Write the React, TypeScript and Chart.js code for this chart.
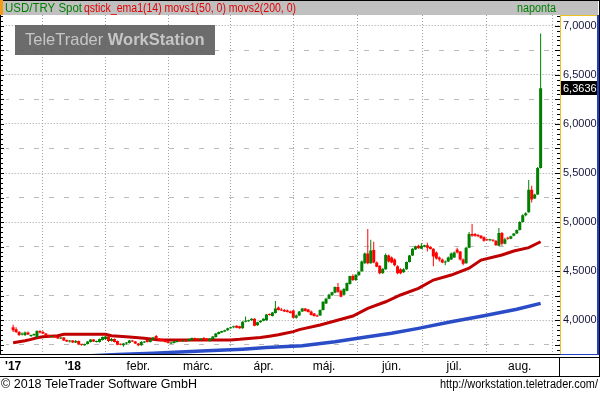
import React, { useEffect, useRef } from 'react';
import { Chart, registerables } from 'chart.js';

Chart.register(...registerables);

// ---- data ----
const openValues = [
  3.93, 3.91, 3.88, 3.855, 3.85, 3.875, 3.84, 3.85, 3.83, 3.89,
  3.88, 3.865, 3.845, 3.83, 3.84, 3.83, 3.815, 3.825, 3.80, 3.785,
  3.795, 3.775, 3.79, 3.755, 3.745, 3.76, 3.78, 3.805, 3.78, 3.78,
  3.80, 3.81, 3.835, 3.79, 3.81, 3.79, 3.76, 3.745, 3.765, 3.77,
  3.795, 3.785, 3.765, 3.745, 3.775, 3.80, 3.78, 3.805, 3.84, 3.815,
  3.81, 3.795, 3.785, 3.765, 3.77, 3.78, 3.79, 3.785, 3.79, 3.79,
  3.80, 3.82, 3.81, 3.80, 3.82, 3.815, 3.79, 3.81, 3.83, 3.86,
  3.875, 3.885, 3.90, 3.92, 3.93, 3.945, 3.94, 3.92, 3.985, 3.99,
  4.00, 4.015, 3.95, 3.98, 3.995, 4.00, 4.065, 4.045, 4.075, 4.13,
  4.11, 4.105, 4.10, 4.09, 4.10, 4.025, 4.05, 4.09, 4.12, 4.11,
  4.09, 4.07, 4.05, 4.05, 4.105, 4.17, 4.22, 4.255, 4.28, 4.34,
  4.30, 4.26, 4.30, 4.37, 4.45, 4.41, 4.46, 4.50, 4.58, 4.68,
  4.58, 4.715, 4.59, 4.555, 4.48, 4.52, 4.66, 4.64, 4.62, 4.55,
  4.52, 4.49, 4.52, 4.595, 4.66, 4.72, 4.76, 4.73, 4.75, 4.765,
  4.75, 4.73, 4.69, 4.64, 4.62, 4.59, 4.60, 4.62, 4.64, 4.72,
  4.70, 4.62, 4.58, 4.74, 4.88, 4.88, 4.87, 4.86, 4.845, 4.82,
  4.815, 4.82, 4.81, 4.76, 4.89, 4.78, 4.84, 4.83, 4.86, 4.885,
  4.92, 5.00, 5.07, 5.10, 5.33, 5.24, 5.28, 5.55
];
const highValues = [
  3.955, 3.93, 3.89, 3.875, 3.885, 3.885, 3.855, 3.865, 3.90, 3.90,
  3.895, 3.87, 3.855, 3.845, 3.85, 3.835, 3.83, 3.83, 3.805, 3.80,
  3.80, 3.80, 3.795, 3.76, 3.765, 3.79, 3.81, 3.81, 3.795, 3.815,
  3.835, 3.84, 3.84, 3.82, 3.815, 3.795, 3.765, 3.77, 3.78, 3.80,
  3.80, 3.79, 3.77, 3.79, 3.79, 3.805, 3.81, 3.83, 3.85, 3.82,
  3.815, 3.80, 3.79, 3.78, 3.79, 3.795, 3.80, 3.795, 3.795, 3.815,
  3.825, 3.825, 3.82, 3.82, 3.83, 3.82, 3.82, 3.84, 3.87, 3.885,
  3.895, 3.905, 3.925, 3.935, 3.945, 3.95, 3.945, 3.99, 4.04, 4.005,
  4.02, 4.02, 3.985, 4.00, 4.02, 4.065, 4.07, 4.085, 4.196, 4.14,
  4.125, 4.115, 4.11, 4.10, 4.105, 4.06, 4.095, 4.125, 4.125, 4.115,
  4.10, 4.075, 4.06, 4.11, 4.195, 4.23, 4.27, 4.29, 4.345, 4.38,
  4.31, 4.33, 4.385, 4.455, 4.47, 4.47, 4.50, 4.61, 4.69, 4.93,
  4.82, 4.80, 4.60, 4.56, 4.53, 4.68, 4.67, 4.65, 4.63, 4.56,
  4.53, 4.53, 4.60, 4.665, 4.735, 4.76, 4.77, 4.785, 4.77, 4.79,
  4.755, 4.735, 4.70, 4.65, 4.63, 4.61, 4.65, 4.69, 4.70, 4.74,
  4.705, 4.63, 4.75, 4.90, 4.98, 4.89, 4.88, 4.87, 4.855, 4.83,
  4.83, 4.825, 4.815, 4.94, 4.90, 4.84, 4.85, 4.86, 4.89, 4.925,
  5.01, 5.08, 5.10, 5.43, 5.37, 5.29, 5.56, 6.92
];
const lowValues = [
  3.88, 3.87, 3.84, 3.845, 3.84, 3.85, 3.83, 3.84, 3.82, 3.865,
  3.86, 3.84, 3.83, 3.825, 3.82, 3.81, 3.81, 3.79, 3.78, 3.775,
  3.77, 3.77, 3.75, 3.74, 3.74, 3.755, 3.775, 3.78, 3.775, 3.775,
  3.795, 3.80, 3.78, 3.785, 3.775, 3.745, 3.745, 3.73, 3.755, 3.765,
  3.78, 3.76, 3.735, 3.74, 3.77, 3.775, 3.775, 3.80, 3.81, 3.79,
  3.785, 3.775, 3.765, 3.76, 3.765, 3.775, 3.78, 3.78, 3.78, 3.785,
  3.795, 3.80, 3.80, 3.795, 3.80, 3.79, 3.785, 3.805, 3.825, 3.855,
  3.87, 3.88, 3.895, 3.915, 3.92, 3.92, 3.915, 3.915, 3.98, 3.985,
  3.995, 3.94, 3.945, 3.975, 3.99, 3.995, 4.05, 4.04, 4.07, 4.10,
  4.095, 4.085, 4.08, 4.07, 4.02, 4.015, 4.045, 4.085, 4.09, 4.08,
  4.05, 4.04, 4.035, 4.045, 4.10, 4.165, 4.215, 4.25, 4.275, 4.28,
  4.235, 4.25, 4.295, 4.365, 4.40, 4.40, 4.455, 4.495, 4.575, 4.57,
  4.575, 4.58, 4.54, 4.47, 4.475, 4.515, 4.59, 4.58, 4.55, 4.47,
  4.47, 4.485, 4.515, 4.59, 4.655, 4.715, 4.73, 4.725, 4.745, 4.70,
  4.72, 4.55, 4.62, 4.60, 4.58, 4.56, 4.595, 4.615, 4.635, 4.68,
  4.61, 4.56, 4.575, 4.735, 4.85, 4.85, 4.845, 4.83, 4.80, 4.81,
  4.805, 4.80, 4.76, 4.755, 4.76, 4.775, 4.82, 4.825, 4.855, 4.88,
  4.915, 4.995, 5.06, 5.095, 5.20, 5.235, 5.275, 5.545
];
const closeValues = [
  3.90, 3.88, 3.85, 3.865, 3.875, 3.855, 3.85, 3.86, 3.89, 3.875,
  3.865, 3.845, 3.835, 3.84, 3.825, 3.815, 3.825, 3.795, 3.785, 3.795,
  3.775, 3.79, 3.755, 3.75, 3.76, 3.785, 3.805, 3.785, 3.79, 3.81,
  3.83, 3.835, 3.79, 3.81, 3.78, 3.75, 3.75, 3.765, 3.775, 3.795,
  3.785, 3.765, 3.745, 3.78, 3.785, 3.78, 3.805, 3.825, 3.815, 3.795,
  3.79, 3.78, 3.77, 3.775, 3.785, 3.79, 3.785, 3.79, 3.785, 3.81,
  3.82, 3.805, 3.805, 3.815, 3.805, 3.795, 3.815, 3.835, 3.865, 3.88,
  3.89, 3.90, 3.92, 3.93, 3.94, 3.925, 3.92, 3.985, 3.995, 4.00,
  4.015, 3.945, 3.98, 3.995, 4.015, 4.06, 4.055, 4.08, 4.12, 4.105,
  4.10, 4.09, 4.085, 4.075, 4.025, 4.05, 4.09, 4.12, 4.095, 4.085,
  4.055, 4.045, 4.04, 4.105, 4.19, 4.22, 4.26, 4.285, 4.34, 4.29,
  4.24, 4.32, 4.38, 4.45, 4.41, 4.465, 4.495, 4.60, 4.68, 4.58,
  4.71, 4.59, 4.545, 4.48, 4.525, 4.665, 4.60, 4.59, 4.56, 4.48,
  4.48, 4.52, 4.595, 4.66, 4.73, 4.755, 4.735, 4.76, 4.765, 4.74,
  4.725, 4.65, 4.63, 4.62, 4.59, 4.595, 4.64, 4.68, 4.69, 4.69,
  4.62, 4.575, 4.74, 4.88, 4.86, 4.86, 4.855, 4.835, 4.81, 4.815,
  4.82, 4.81, 4.765, 4.89, 4.78, 4.825, 4.83, 4.855, 4.885, 4.92,
  5.00, 5.07, 5.09, 5.33, 5.23, 5.28, 5.55, 6.3636
];

// movs1(50) – red moving average, read at these candle positions
const movs1Index = [0, 2, 4, 6, 8, 10, 15, 17, 31, 33, 39, 44, 49, 73, 76, 79, 83, 86, 89, 91, 94, 96, 103, 107, 114, 119, 125, 130, 136, 141, 147, 153, 157, 164, 168, 173, 177];
const movs1Values = [3.772, 3.782, 3.792, 3.806, 3.823, 3.833, 3.843, 3.857, 3.857, 3.843, 3.830, 3.817, 3.800, 3.800, 3.806, 3.815, 3.825, 3.838, 3.853, 3.866, 3.885, 3.905, 3.952, 3.986, 4.044, 4.122, 4.189, 4.258, 4.326, 4.410, 4.461, 4.530, 4.614, 4.665, 4.706, 4.740, 4.800];

// movs2(200) – blue moving average
const movs2Index = [0, 35, 47, 56, 65, 77, 85, 97, 108, 119, 127, 136, 147, 158, 169, 177];
const movs2Values = [3.600, 3.652, 3.665, 3.678, 3.690, 3.706, 3.722, 3.742, 3.782, 3.833, 3.868, 3.918, 3.986, 4.047, 4.112, 4.173];

const timeTickPositions = [0, 20, 42, 62, 84, 104.33, 127, 148, 170];
const timeTickLabels = ["'17", "'18", 'febr.', 'márc.', 'ápr.', 'máj.', 'jún.', 'júl.', 'aug.'];
const priceTicks = [4, 4.5, 5, 5.5, 6, 6.5, 7];
const minorPriceTicks = [3.75, 4.25, 4.75, 5.25, 5.75, 6.25, 6.75];

const titleInstrument = 'USD/TRY Spot';
const titleIndicators = 'qstick_ema1(14) movs1(50, 0) movs2(200, 0)';
const periodLabel = 'naponta';
const watermarkA = 'TeleTrader ';
const watermarkB = 'WorkStation';
const footerLeft = '© 2018 TeleTrader Software GmbH';
const footerRight = 'http://workstation.teletrader.com/';

const FONT = "'Liberation Sans', Arial, sans-serif";
const GREEN = '#008000';
const RED = '#ff0000';
const Y_MIN = 3.657;
const Y_MAX = 7.109;

const fmt = (v: number) => v.toFixed(4).replace('.', ',');

// draw text squeezed/stretched horizontally to a target width
function fitText(ctx: CanvasRenderingContext2D, text: string, x: number, y: number, width: number) {
  const w = ctx.measureText(text).width;
  ctx.save();
  ctx.translate(x, y);
  ctx.scale(width / w, 1);
  ctx.fillText(text, 0, 0);
  ctx.restore();
}

const decor = {
  id: 'decor',
  beforeDraw(chart: any) {
    const { ctx, width, height } = chart;
    ctx.save();
    ctx.fillStyle = '#ffffff';
    ctx.fillRect(0, 0, width, height);
    ctx.fillStyle = '#c0c0c0';
    ctx.fillRect(0, 0, 598, 15);
    ctx.restore();
  },
  beforeDatasetsDraw(chart: any) {
    const { ctx } = chart;
    ctx.save();
    ctx.fillStyle = 'rgba(92,92,92,0.9)';
    ctx.fillRect(15, 25, 200, 30);
    ctx.fillStyle = '#c6c6c6';
    ctx.textBaseline = 'alphabetic';
    ctx.font = `16.5px ${FONT}`;
    ctx.fillText(watermarkA, 25, 45);
    const w = ctx.measureText(watermarkA).width;
    ctx.font = `bold 16.5px ${FONT}`;
    ctx.fillText(watermarkB, 25 + w, 45);
    ctx.restore();
  },
  afterDraw(chart: any) {
    const { ctx } = chart;
    const ys = chart.scales.y;
    ctx.save();
    // title bar
    ctx.fillStyle = '#000';
    ctx.fillRect(0, 0, 600, 1);
    ctx.fillStyle = '#f39c12';
    ctx.fillRect(0, 0, 3, 15);
    ctx.textBaseline = 'alphabetic';
    ctx.font = `12px ${FONT}`;
    ctx.fillStyle = GREEN;
    fitText(ctx, titleInstrument, 5, 12, 77);
    ctx.fillStyle = '#e00000';
    fitText(ctx, titleIndicators, 84, 12, 212);
    ctx.fillStyle = GREEN;
    fitText(ctx, periodLabel, 517, 12, 39);

    // frame lines
    ctx.fillStyle = '#000';
    ctx.fillRect(0, 15, 1, 339);
    ctx.fillRect(0, 354, 560, 1);
    ctx.fillRect(0, 357, 600, 1);
    ctx.fillRect(0, 376, 600, 1);
    ctx.fillRect(559, 357, 1, 20);
    ctx.fillRect(599, 0, 1, 377);
    // right axis bevel
    ctx.fillStyle = '#f0c020';
    ctx.fillRect(560, 15, 1, 339);
    ctx.fillRect(560, 15, 38, 1);
    ctx.fillStyle = '#2040c0';
    ctx.fillRect(597, 15, 2, 340);
    ctx.fillRect(560, 354, 39, 1);

    // small tick marks every 0.05
    ctx.fillStyle = '#000';
    for (let k = Math.ceil(Y_MIN / 0.05); k * 0.05 <= Y_MAX; k++) {
      const v = k * 0.05;
      const y = Math.round(ys.getPixelForValue(v));
      const major = k % 5 === 0;
      ctx.fillRect(1, y, major ? 3 : 2, 1);
      ctx.fillRect(major ? 555 : 557, y, major ? 5 : 3, 1);
    }

    // last value marker
    const last = closeValues[closeValues.length - 1];
    const ly = Math.round(ys.getPixelForValue(last));
    ctx.fillStyle = '#000';
    ctx.fillRect(561, ly - 7, 36, 14);
    ctx.fillStyle = '#fff';
    ctx.font = `11px ${FONT}`;
    ctx.textBaseline = 'middle';
    ctx.fillText(fmt(last), 563, ly + 0.5);

    // footer
    ctx.fillStyle = '#000';
    ctx.textBaseline = 'alphabetic';
    ctx.font = `12px ${FONT}`;
    fitText(ctx, footerLeft, 1, 388, 196);
    fitText(ctx, footerRight, 440, 388, 158);
    ctx.restore();
  },
};

export default function App() {
  const ref = useRef<HTMLCanvasElement | null>(null);
  useEffect(() => {
    document.body.style.margin = '0';
    if (!ref.current) return;
    const idx = closeValues.map((_, i) => i);
    const colors = idx.map(i => (closeValues[i] >= openValues[i] ? GREEN : RED));
    const chart = new Chart(ref.current, {
      type: 'bar',
      data: {
        datasets: [
          {
            type: 'bar',
            label: 'body',
            data: idx.map(i => ({ x: i, y: [openValues[i], closeValues[i]] })) as any,
            backgroundColor: colors,
            borderWidth: 0,
            barThickness: 3,
            grouped: false,
            minBarLength: 1,
            inflateAmount: 0,
            order: 1,
            yAxisID: 'y',
          } as any,
          {
            type: 'bar',
            label: 'wick',
            data: idx.map(i => ({ x: i, y: [lowValues[i], highValues[i]] })) as any,
            backgroundColor: colors,
            borderWidth: 0,
            barThickness: 1,
            grouped: false,
            inflateAmount: 0,
            order: 2,
            yAxisID: 'y',
          } as any,
          {
            type: 'line',
            label: 'movs1',
            data: movs1Index.map((x, k) => ({ x, y: movs1Values[k] })),
            borderColor: '#c00000',
            borderWidth: 3,
            pointRadius: 0,
            tension: 0,
            clip: 0,
            order: 3,
            yAxisID: 'y',
          } as any,
          {
            type: 'line',
            label: 'movs2',
            data: movs2Index.map((x, k) => ({ x, y: movs2Values[k] })),
            borderColor: '#2a4cc6',
            borderWidth: 3.5,
            pointRadius: 0,
            tension: 0,
            clip: 0,
            order: 4,
            yAxisID: 'y',
          } as any,
        ],
      },
      options: {
        responsive: false,
        animation: false,
        devicePixelRatio: 1,
        layout: { padding: { top: 15, left: 2, right: 0, bottom: 0 } },
        plugins: { legend: { display: false }, tooltip: { enabled: false } },
        scales: {
          x: {
            type: 'linear',
            min: -2.5,
            max: 183.5,
            offset: false,
            afterBuildTicks: (s: any) => {
              s.ticks = timeTickPositions.map(v => ({ value: v }));
            },
            afterFit: (s: any) => {
              s.height = 39;
            },
            grid: {
              color: (c: any) => (c.tick && c.tick.value === 0 ? 'rgba(0,0,0,0)' : '#a0a0a0'),
              drawTicks: false,
              lineWidth: 1,
            },
            border: { display: false, dash: [1, 2] },
            ticks: {
              autoSkip: false,
              maxRotation: 0,
              padding: 5,
              color: '#000',
              font: (c: any) => ({ family: FONT, size: 12, weight: c.tick && c.tick.value <= 20 ? 'bold' : 'normal' }),
              callback: (_v: any, i: number) => timeTickLabels[i],
            },
          },
          y: {
            type: 'linear',
            position: 'right',
            min: Y_MIN,
            max: Y_MAX,
            afterBuildTicks: (s: any) => {
              s.ticks = priceTicks.map(v => ({ value: v }));
            },
            afterFit: (s: any) => {
              s.width = 40;
            },
            grid: { color: '#a0a0a0', drawTicks: false, lineWidth: 1 },
            border: { display: false, dash: [1, 2] },
            ticks: {
              padding: 3,
              color: '#14143c',
              font: { family: FONT, size: 11 },
              callback: (v: any) => fmt(Number(v)),
            },
          },
          y2: {
            type: 'linear',
            position: 'left',
            min: Y_MIN,
            max: Y_MAX,
            afterBuildTicks: (s: any) => {
              s.ticks = minorPriceTicks.map(v => ({ value: v }));
            },
            afterFit: (s: any) => {
              s.width = 0;
            },
            grid: { color: '#bcbcbc', drawTicks: false, lineWidth: 1 },
            border: { display: false, dash: [5, 10], dashOffset: 2 },
            ticks: { display: false },
          },
        },
      } as any,
      plugins: [decor],
    });
    return () => chart.destroy();
  }, []);
  return (
    <div style={{ width: 600, height: 393 }}>
      <canvas ref={ref} width={600} height={393} style={{ display: 'block' }} />
    </div>
  );
}
